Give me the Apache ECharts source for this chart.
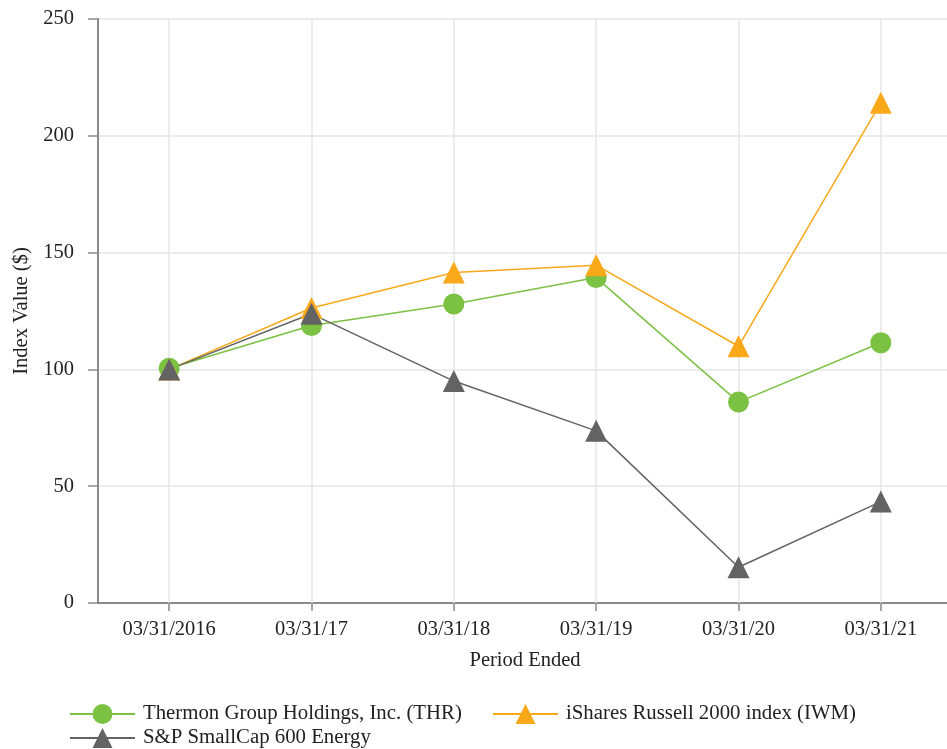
<!DOCTYPE html>
<html>
<head>
<meta charset="utf-8">
<script src="https://cdn.jsdelivr.net/npm/echarts@6/dist/echarts.min.js"></script>
<style>
html,body{margin:0;padding:0;background:#fff;}
#chart{width:947px;height:749px;}
</style>
</head>
<body>
<div id="chart"></div>
<script>
const categories = ['03/31/2016', '03/31/17', '03/31/18', '03/31/19', '03/31/20', '03/31/21'];
const thrValues = [100.5, 118.8, 128.0, 139.3, 86.0, 111.4];
const iwmValues = [100.0, 126.3, 141.5, 144.6, 109.9, 214.2];
const spValues = [100.0, 123.8, 95.0, 73.7, 15.3, 43.4];
const yTicks = [0, 50, 100, 150, 200, 250];
const seriesNames = ['Thermon Group Holdings, Inc. (THR)', 'iShares Russell 2000 index (IWM)', 'S&P SmallCap 600 Energy'];

const FONT = '"Liberation Serif", "Times New Roman", serif';
const AX_FS = 20.5;
const LG_FS = 20.8;
const chart = echarts.init(document.getElementById('chart'), null, {renderer: 'canvas'});

function legendFor(name, left, top) {
  return {
    data: [name],
    orient: 'horizontal',
    left: left, top: top,
    itemWidth: 65, itemHeight: 25,
    textStyle: {fontFamily: FONT, fontSize: LG_FS, color: '#222', padding: [3, 0, 0, 3]},
    padding: 0
  };
}

const option = {
  backgroundColor: '#ffffff',
  animation: false,
  textStyle: {fontFamily: FONT},
  grid: {left: 98, top: 19, right: -5, bottom: 146, containLabel: false, outerBoundsMode: 'none'},
  legend: [
    legendFor(seriesNames[0], 69, 703.5),
    legendFor(seriesNames[1], 492, 703.5),
    legendFor(seriesNames[2], 69, 727.5)
  ],
  xAxis: {
    type: 'category',
    data: categories,
    boundaryGap: true,
    name: 'Period Ended',
    nameLocation: 'middle',
    nameGap: 47,
    nameTextStyle: {fontFamily: FONT, fontSize: AX_FS, color: '#222', verticalAlign: 'top'},
    axisLine: {lineStyle: {color: '#8a8a8a', width: 2}},
    axisTick: {show: true, alignWithLabel: true, length: 8, lineStyle: {color: '#8a8a8a', width: 1.5}},
    axisLabel: {fontFamily: FONT, fontSize: AX_FS, color: '#222', margin: 16},
    splitLine: {show: false}
  },
  yAxis: {
    type: 'value',
    min: 0, max: 250, interval: 50,
    name: 'Index Value ($)',
    nameLocation: 'middle',
    nameGap: 66,
    nameTextStyle: {fontFamily: FONT, fontSize: AX_FS, color: '#222'},
    axisLine: {show: true, lineStyle: {color: '#8a8a8a', width: 2}},
    axisTick: {show: true, length: 10, lineStyle: {color: '#8a8a8a', width: 1.5}},
    axisLabel: {fontFamily: FONT, fontSize: AX_FS, color: '#222', margin: 24,
      formatter: v => (yTicks.indexOf(v) >= 0 ? String(v) : '')},
    splitLine: {show: true, lineStyle: {color: '#e6e6e6', width: 1.5}}
  },
  series: [
    {
      name: '__grid',
      type: 'line',
      data: [],
      silent: true,
      z: 0,
      markLine: {
        silent: true,
        z: 1,
        symbol: ['none', 'none'],
        label: {show: false},
        lineStyle: {color: '#e6e6e6', width: 1.5, type: 'solid'},
        emphasis: {disabled: true},
        data: categories.map(c => ({xAxis: c}))
      }
    },
    {
      name: seriesNames[0],
      type: 'line',
      data: thrValues,
      symbol: 'circle',
      symbolSize: 21,
      z: 3,
      itemStyle: {color: '#7bc142'},
      lineStyle: {color: '#7bc142', width: 1.5}
    },
    {
      name: seriesNames[1],
      type: 'line',
      data: iwmValues,
      symbol: 'triangle',
      symbolSize: 22,
      z: 3,
      itemStyle: {color: '#f9a81a'},
      lineStyle: {color: '#f9a81a', width: 1.5}
    },
    {
      name: seriesNames[2],
      type: 'line',
      data: spValues,
      symbol: 'triangle',
      symbolSize: 22,
      z: 3,
      itemStyle: {color: '#636363'},
      lineStyle: {color: '#636363', width: 1.5}
    }
  ]
};
chart.setOption(option);
</script>
</body>
</html>
